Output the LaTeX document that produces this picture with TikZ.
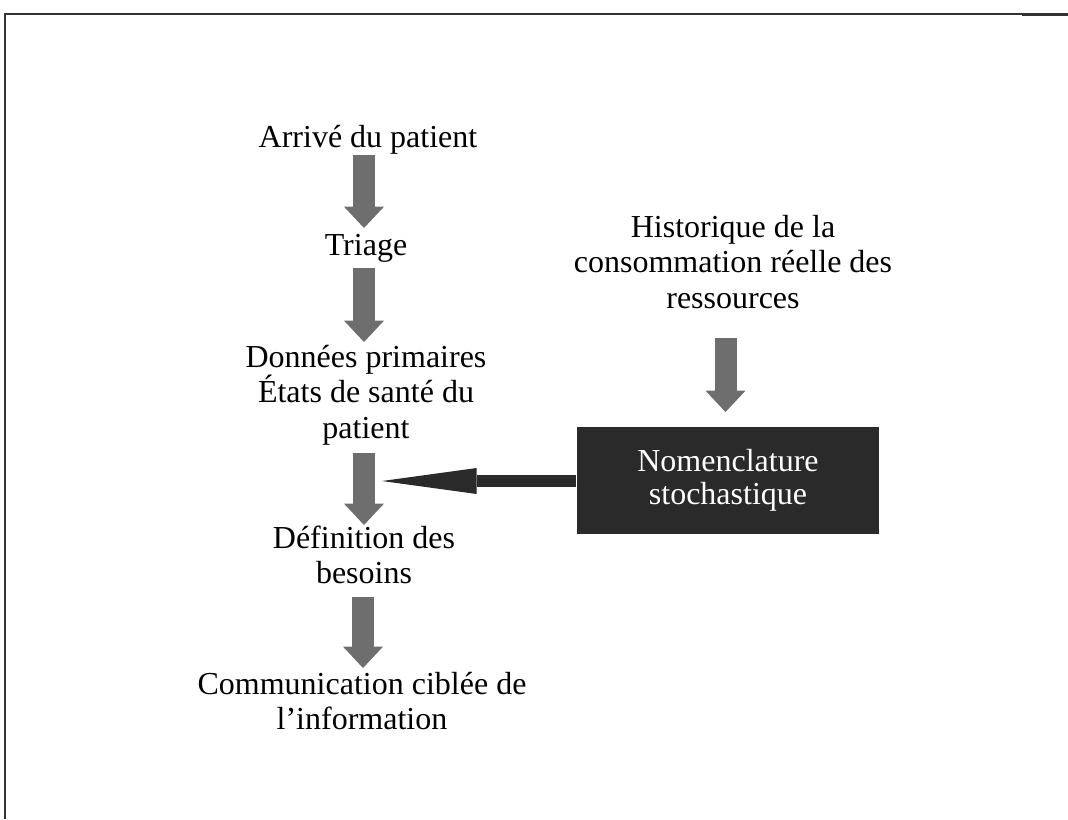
\documentclass[tikz,border=0pt]{standalone}
\usepackage{fontspec}
\setmainfont{Liberation Serif}
\usetikzlibrary{arrows.meta}
\definecolor{arrowgray}{HTML}{6E6E6E}
\definecolor{boxblack}{HTML}{2A2A2A}
\definecolor{framegray}{HTML}{333333}
\begin{document}
\begin{tikzpicture}[x=0.75pt,y=-0.75pt,
  lbl/.style={align=center,font=\fontsize{24}{26.5}\selectfont,inner sep=0pt},
  flow/.style={draw=arrowgray,line width=16.5pt,
    -{Triangle[width=30pt,length=16pt,line width=0pt]}},
  feed/.style={draw=boxblack,line width=9.5pt,
    -{Triangle[width=19.5pt,length=71pt,line width=0pt]}},
  darkbox/.style={fill=boxblack,text=white,align=center,
    font=\fontsize{24}{25}\selectfont,minimum width=227pt,minimum height=80pt,inner sep=0pt}]
\useasboundingbox (0,0) rectangle (1068,819);

% page frame
\draw[framegray,line width=0.9pt] (5,819) -- (5,14) -- (1068,14);
\draw[framegray,line width=1.6pt] (1022,14.5) -- (1068,14.5);

% main flow
\node[lbl] (arrive) at (368,139.5) {Arrivé du patient};
\node[lbl] (triage) at (366,248) {Triage};
\node[lbl] (donnees) at (366,395) {Données primaires\\États de santé du\\patient};
\node[lbl] (besoins) at (364,555) {Définition des\\besoins};
\node[lbl] (comm) at (362,701) {Communication ciblée de\\l’information};

% resource history
\node[lbl] (histo) at (733,262) {Historique de la\\consommation réelle des\\ressources};
\node[darkbox] (nomen) at (728,480.5) {Nomenclature\\stochastique};

% arrow end points
\coordinate (a1s) at (364,155);
\coordinate (a1e) at (364,228);
\coordinate (a2s) at (364,268);
\coordinate (a2e) at (364,342);
\coordinate (a3s) at (364,453);
\coordinate (a3e) at (364,525);
\coordinate (a4s) at (363,597);
\coordinate (a4e) at (363,668);
\coordinate (a5s) at (725.5,338);
\coordinate (a5e) at (725.5,412);
\coordinate (fe) at (382,481);

\draw[flow] (a1s) -- (a1e);
\draw[flow] (a2s) -- (a2e);
\draw[flow] (a3s) -- (a3e);
\draw[flow] (a4s) -- (a4e);
\draw[flow] (a5s) -- (a5e);
\draw[feed] (nomen.west |- fe) -- (fe);
\end{tikzpicture}
\end{document}
